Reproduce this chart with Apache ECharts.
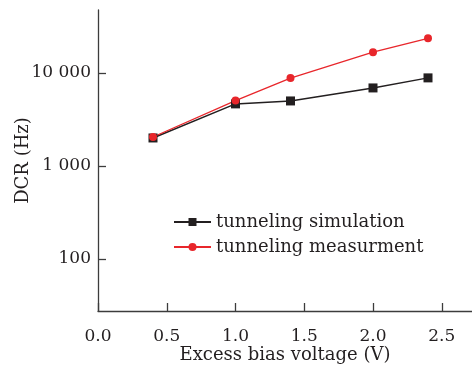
<!DOCTYPE html>
<html>
<head>
<meta charset="utf-8">
<script src="https://cdn.jsdelivr.net/npm/echarts@6/dist/echarts.min.js"></script>
<style>
  html, body { margin: 0; padding: 0; background: #fff; }
  #chart { width: 472px; height: 368px; }
</style>
</head>
<body>
<div id="chart"></div>
<script>
// values
const voltages = [0.4, 1.0, 1.4, 2.0, 2.4];
const simulation = [2000, 4650, 5000, 6900, 8850];
const measurement = [2050, 5050, 8800, 16700, 23600];
const xTicks = [0, 0.5, 1.0, 1.5, 2.0, 2.5];
const yTicks = [100, 1000, 10000];
const seriesNames = ["tunneling simulation", "tunneling measurment"];

const FONT = "DejaVu Serif";
const TEXT = "#231f20";
const AXIS = "#3c3c3c";

function pairs(xs, ys) {
  return xs.map((x, i) => [x, ys[i]]);
}

// 10000 -> "10 000"
function spaced(v) {
  return String(Math.round(v)).replace(/\B(?=(\d{3})+(?!\d))/g, " ");
}

const chart = echarts.init(document.getElementById("chart"), null, { renderer: "canvas" });

const option = {
  animation: false,
  backgroundColor: "#fff",
  grid: { left: 98, right: 0, top: 10, bottom: 57, containLabel: false, outerBoundsMode: "none" },
  legend: {
    orient: "vertical",
    left: 168,
    top: 208,
    itemWidth: 37,
    itemHeight: 10,
    itemGap: 7,
    textStyle: { fontFamily: FONT, fontSize: 18, color: TEXT },
    data: seriesNames
  },
  xAxis: {
    type: "value",
    min: 0,
    max: 2.72,
    name: "Excess bias voltage (V)",
    nameLocation: "middle",
    nameGap: 35,
    nameMoveOverlap: false,
    nameTextStyle: { fontFamily: FONT, fontSize: 18, color: TEXT },
    axisLine: { lineStyle: { color: AXIS, width: 1.3 } },
    axisTick: { inside: true, length: 8, customValues: xTicks, lineStyle: { color: AXIS, width: 1.3 } },
    axisLabel: {
      customValues: xTicks,
      margin: 17,
      fontFamily: FONT,
      fontSize: 17,
      color: TEXT,
      formatter: (v) => v.toFixed(1)
    },
    splitLine: { show: false }
  },
  yAxis: {
    type: "log",
    min: 27.6,
    max: 47500,
    name: "DCR (Hz)",
    nameLocation: "middle",
    nameGap: 66,
    nameMoveOverlap: false,
    nameTextStyle: { fontFamily: FONT, fontSize: 18, color: TEXT },
    axisLine: { lineStyle: { color: AXIS, width: 1.3 } },
    axisTick: { inside: true, length: 8, customValues: yTicks, lineStyle: { color: AXIS, width: 1.3 } },
    axisLabel: {
      customValues: yTicks,
      margin: 7,
      fontFamily: FONT,
      fontSize: 17,
      color: TEXT,
      formatter: spaced
    },
    splitLine: { show: false }
  },
  series: [
    {
      name: seriesNames[0],
      type: "line",
      data: pairs(voltages, simulation),
      symbol: "rect",
      symbolSize: 9,
      color: "#231f20",
      lineStyle: { width: 1.5, color: "#231f20" },
      itemStyle: { color: "#231f20" }
    },
    {
      name: seriesNames[1],
      type: "line",
      data: pairs(voltages, measurement),
      symbol: "circle",
      symbolSize: 8,
      color: "#e8262b",
      lineStyle: { width: 1.3, color: "#e8262b" },
      itemStyle: { color: "#e8262b" }
    }
  ]
};

chart.setOption(option);
</script>
</body>
</html>
